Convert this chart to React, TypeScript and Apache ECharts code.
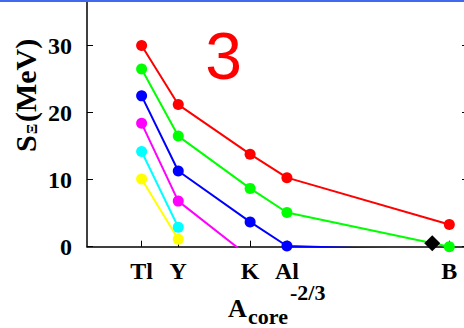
import React, { useEffect, useRef } from "react";
import * as echarts from "echarts";

// Hypernucleus labels and their core-mass coordinate A_core^(-2/3)
const nucleusLabels = ["Tl", "Y", "K", "Al", "B"];
const coreCoords = [0.0301, 0.0503, 0.0899, 0.1102, 0.1997];

// Separation energies S_Ξ (MeV) for each potential set, listed along coreCoords
const redValues = [30.0, 21.2, 13.8, 10.3, 3.3];
const greenValues = [26.5, 16.5, 8.7, 5.1, 0.0];
const blueValues = [22.5, 11.3, 3.7, 0.1, -0.6];
const magentaValues = [18.4, 6.8, -1.6];
const cyanValues = [14.2, 2.9];
const yellowValues = [10.1, 1.1];

// Measured point shown as a diamond
const measuredX = [0.1903];
const measuredY = [0.5];

const yTicks = [0, 10, 20, 30];

const SERIF = "'Liberation Serif', 'Times New Roman', serif";
const SANS = "'Liberation Sans', Arial, sans-serif";

function pairs(values: number[]) {
  return values.map((v, i) => [coreCoords[i], v]);
}

function lineSeries(name: string, color: string, values: number[]) {
  return {
    name,
    type: "line",
    data: pairs(values),
    symbol: "circle",
    symbolSize: 11,
    clip: true,
    lineStyle: { color, width: 2 },
    itemStyle: { color, opacity: 1 },
    z: 3,
  };
}

export default function App() {
  const ref = useRef<HTMLDivElement>(null);

  useEffect(() => {
    if (!ref.current) return;
    const chart = echarts.init(ref.current, null, { renderer: "svg" });

    const tickLabelStyle = {
      fontFamily: SERIF,
      fontWeight: "bold",
      fontSize: 24,
      color: "#000",
    };

    chart.setOption({
      animation: false,
      backgroundColor: "#fff",
      grid: {
        left: 87,
        right: -4,
        top: 0,
        bottom: 81.3,
        outerBoundsMode: "none",
        containLabel: false,
      },
      xAxis: {
        type: "value",
        min: 0,
        max: 0.21,
        axisLine: { show: true, onZero: false, lineStyle: { color: "#000", width: 1.5 } },
        axisTick: {
          show: true,
          inside: true,
          length: 6,
          customValues: coreCoords,
          lineStyle: { color: "#000", width: 1 },
        },
        axisLabel: {
          ...tickLabelStyle,
          margin: 12,
          customValues: coreCoords,
          formatter: (v: number) => {
            let best = 0;
            coreCoords.forEach((c, i) => {
              if (Math.abs(c - v) < Math.abs(coreCoords[best] - v)) best = i;
            });
            return nucleusLabels[best];
          },
        },
        splitLine: { show: false },
      },
      yAxis: [
        {
          type: "value",
          min: 0,
          max: 36.8,
          position: "left",
          axisLine: { show: true, onZero: false, lineStyle: { color: "#000", width: 1.5 } },
          axisTick: {
            show: true,
            inside: true,
            length: 6,
            customValues: yTicks,
            lineStyle: { color: "#000", width: 1 },
          },
          axisLabel: { ...tickLabelStyle, margin: 15, customValues: yTicks },
          splitLine: { show: false },
        },
        {
          type: "value",
          min: 0,
          max: 36.8,
          position: "right",
          axisLine: { show: true, onZero: false, lineStyle: { color: "#000", width: 1.5 } },
          axisTick: {
            show: true,
            inside: true,
            length: 6,
            customValues: yTicks,
            lineStyle: { color: "#000", width: 1 },
          },
          axisLabel: { show: false },
          splitLine: { show: false },
        },
      ],
      series: [
        lineSeries("yellow", "#ffff00", yellowValues),
        lineSeries("cyan", "#00ffff", cyanValues),
        lineSeries("magenta", "#ff00ff", magentaValues),
        lineSeries("blue", "#0000ff", blueValues),
        lineSeries("green", "#00ff00", greenValues),
        lineSeries("red", "#ff0000", redValues),
        {
          name: "measured",
          type: "scatter",
          data: measuredX.map((x, i) => [x, measuredY[i]]),
          symbol: "diamond",
          symbolSize: 16,
          itemStyle: { color: "#000", opacity: 1 },
          z: 4,
        },
      ],
      graphic: [
        {
          type: "rect",
          left: 0,
          top: 0,
          shape: { x: 0, y: 0, width: 464, height: 2 },
          style: { fill: "#4169ee" },
          z: 100,
        },
        {
          type: "text",
          x: 223.5,
          y: 56,
          style: {
            text: "3",
            fill: "#ff0000",
            fontFamily: SANS,
            fontSize: 66,
            align: "center",
            verticalAlign: "middle",
          },
          z: 50,
        },
        // y-axis title: S_Ξ(MeV), reading upward
        {
          type: "text",
          x: 25,
          y: 152,
          rotation: Math.PI / 2,
          style: {
            text: "S",
            fill: "#000",
            fontFamily: SERIF,
            fontWeight: "bold",
            fontSize: 30,
            align: "left",
            verticalAlign: "middle",
          },
        },
        {
          type: "text",
          x: 32,
          y: 134,
          rotation: Math.PI / 2,
          style: {
            text: "Ξ",
            fill: "#000",
            fontFamily: SERIF,
            fontWeight: "bold",
            fontSize: 15,
            align: "left",
            verticalAlign: "middle",
          },
        },
        {
          type: "text",
          x: 25,
          y: 122,
          rotation: Math.PI / 2,
          style: {
            text: "(MeV)",
            fill: "#000",
            fontFamily: SERIF,
            fontWeight: "bold",
            fontSize: 30,
            align: "left",
            verticalAlign: "middle",
          },
        },
        // x-axis title: A_core^(-2/3)
        {
          type: "text",
          x: 228,
          y: 308,
          style: {
            text: "A",
            fill: "#000",
            fontFamily: SERIF,
            fontWeight: "bold",
            fontSize: 26,
            align: "left",
            verticalAlign: "middle",
          },
        },
        {
          type: "text",
          x: 248,
          y: 316.5,
          style: {
            text: "core",
            fill: "#000",
            fontFamily: SERIF,
            fontWeight: "bold",
            fontSize: 22,
            align: "left",
            verticalAlign: "middle",
          },
        },
        {
          type: "text",
          x: 290,
          y: 292.5,
          style: {
            text: "-2/3",
            fill: "#000",
            fontFamily: SERIF,
            fontWeight: "bold",
            fontSize: 22,
            align: "left",
            verticalAlign: "middle",
          },
        },
      ],
    });

    return () => chart.dispose();
  }, []);

  return (
    <div
      ref={ref}
      style={{ position: "fixed", left: 0, top: 0, width: 464, height: 328 }}
    />
  );
}
